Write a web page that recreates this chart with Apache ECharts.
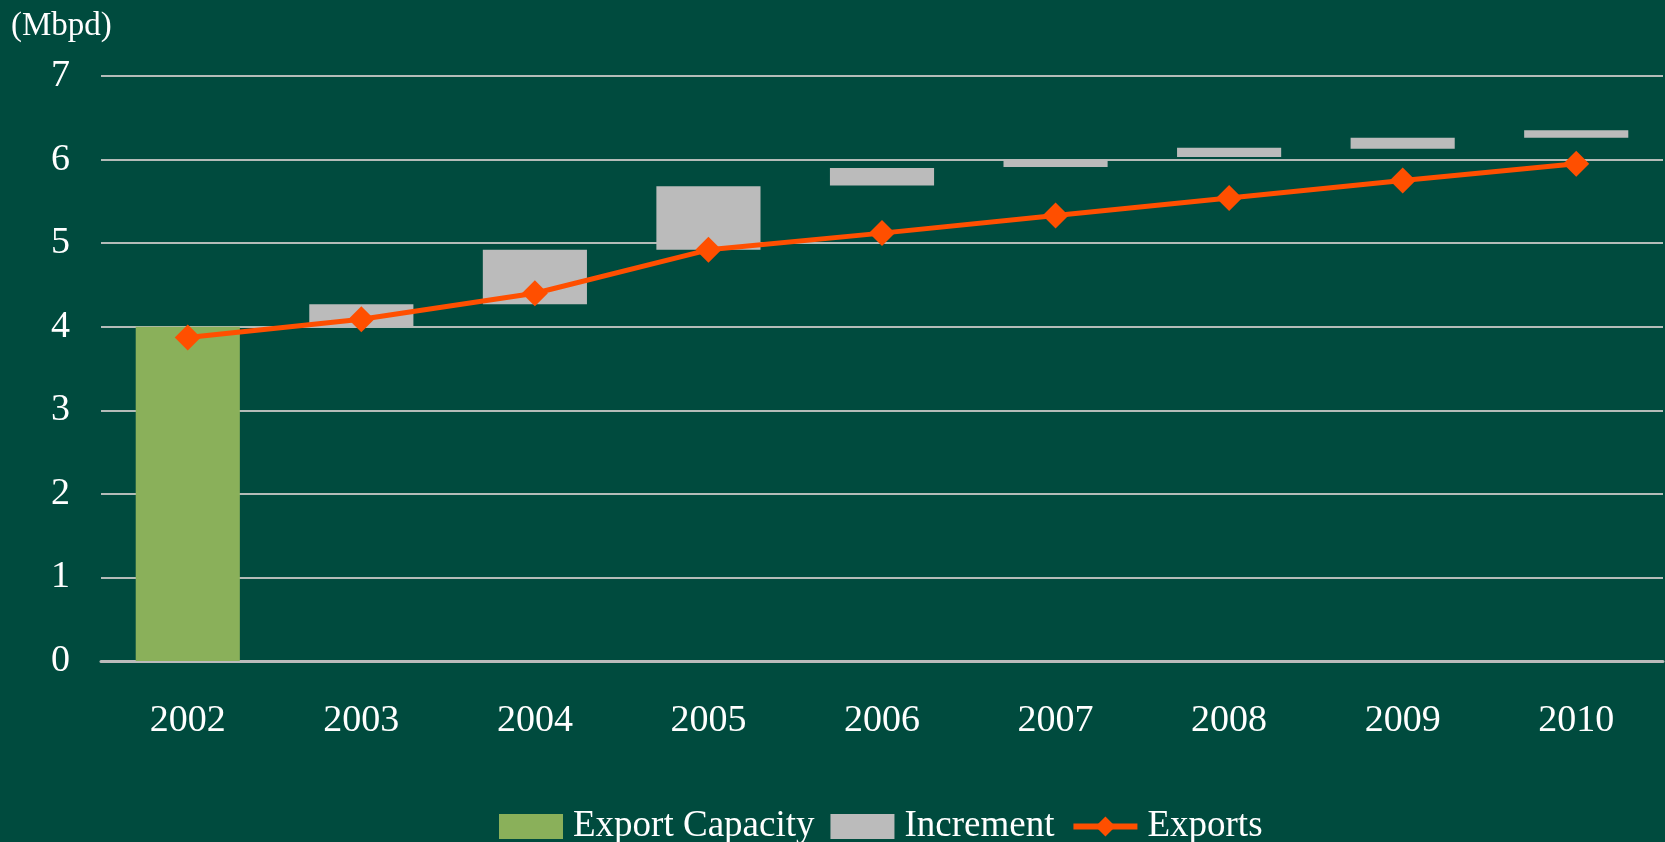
<!DOCTYPE html>
<html>
<head>
<meta charset="utf-8">
<title>Export capacity</title>
<script src="https://cdn.jsdelivr.net/npm/echarts@6/dist/echarts.min.js"></script>
<style>
    html, body { margin: 0; padding: 0; background: #004b3e; }
    #chart { width: 1665px; height: 842px; }
</style>
</head>
<body>
<div id="chart"></div>
<script>
    // 数据
    var years = ['2002', '2003', '2004', '2005', '2006', '2007', '2008', '2009', '2010'];
    var capacity = [4.0, '-', '-', '-', '-', '-', '-', '-', '-'];
    // waterfall base (invisible) + increment on top
    var incBase = [0, 4.0, 4.27, 4.92, 5.69, 5.91, 6.03, 6.13, 6.26];
    var increment = ['-', 0.27, 0.65, 0.76, 0.21, 0.09, 0.11, 0.13, 0.09];
    var exports = [3.87, 4.09, 4.40, 4.92, 5.12, 5.33, 5.54, 5.75, 5.95];
    var yTicks = [0, 1, 2, 3, 4, 5, 6, 7];

    var font = '"Liberation Serif", "Times New Roman", serif';
    var chart = echarts.init(document.getElementById('chart'));

    chart.setOption({
        backgroundColor: '#004b3e',
        animation: false,
        textStyle: { fontFamily: font, color: '#ffffff' },
        title: {
            text: '(Mbpd)',
            left: 6,
            top: 5,
            textStyle: { fontFamily: font, fontSize: 33, fontWeight: 'normal', color: '#ffffff' }
        },
        legend: {
            data: [
                { name: 'Export Capacity', icon: 'rect' },
                { name: 'Increment', icon: 'rect' },
                { name: 'Exports', lineStyle: { width: 6 } }
            ],
            left: 494,
            top: 803,
            itemWidth: 64,
            itemHeight: 25,
            itemGap: 16,
            textStyle: { fontFamily: font, fontSize: 37, color: '#ffffff', padding: [0, 0, 0, 5] }
        },
        grid: {
            left: 101,
            right: 2,
            top: 76,
            bottom: 181
        },
        xAxis: {
            type: 'category',
            data: years,
            axisTick: { show: false },
            axisLine: { lineStyle: { color: '#bbbbbb', width: 3 } },
            axisLabel: { fontFamily: font, fontSize: 38, color: '#ffffff', margin: 41 }
        },
        yAxis: {
            type: 'value',
            min: yTicks[0],
            max: yTicks[yTicks.length - 1],
            interval: 1,
            axisLine: { show: false },
            axisTick: { show: false },
            axisLabel: { fontFamily: font, fontSize: 38, color: '#ffffff', margin: 31 },
            splitLine: { lineStyle: { color: '#b4bcb8', width: 2 } }
        },
        series: [{
            name: 'base',
            type: 'bar',
            stack: 'w',
            barWidth: '60%',
            silent: true,
            itemStyle: { color: 'rgba(0,0,0,0)' },
            data: incBase
        }, {
            name: 'Export Capacity',
            type: 'bar',
            stack: 'w',
            barWidth: '60%',
            itemStyle: { color: '#8ab05a' },
            data: capacity
        }, {
            name: 'Increment',
            type: 'bar',
            stack: 'w',
            barWidth: '60%',
            itemStyle: { color: '#bbbbbb' },
            data: increment
        }, {
            name: 'Exports',
            type: 'line',
            symbol: 'diamond',
            symbolSize: 26,
            z: 5,
            lineStyle: { color: '#ff4f00', width: 5 },
            itemStyle: { color: '#ff4f00' },
            data: exports
        }]
    });
</script>
</body>
</html>
